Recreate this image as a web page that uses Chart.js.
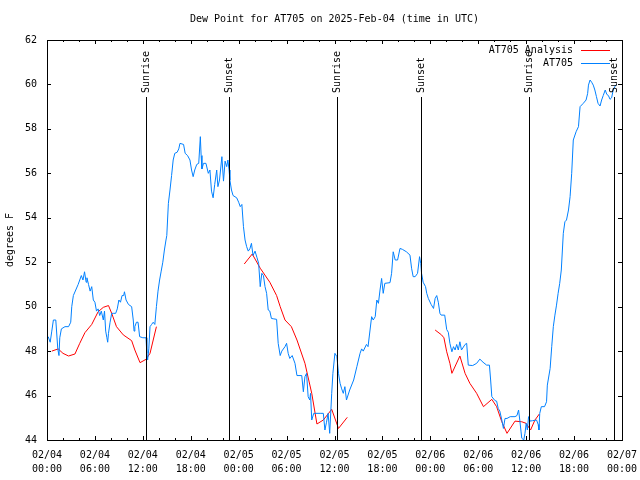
<!DOCTYPE html>
<html>
<head>
<meta charset="utf-8">
<title>Dew Point for AT705</title>
<script src="https://cdn.jsdelivr.net/npm/chart.js@4.4.0/dist/chart.umd.min.js"></script>
<style>
html, body { margin: 0; padding: 0; background: #fff; }
</style>
</head>
<body>
<canvas id="graph0" width="640" height="480"></canvas>
<script>
// hours since 2025-02-04 00:00 UTC
const stationHours = [
  0.15,0.4,0.6,0.8,1.1,1.35,1.5,1.6,1.8,2.25,2.7,2.97,3.1,3.3,3.6,3.9,4.1,4.3,4.5,4.7,4.9,5.0,5.2,5.4,5.6,5.8,
  6.0,6.2,6.4,6.6,6.8,7.05,7.2,7.35,7.5,7.6,7.7,7.9,8.1,8.3,8.6,8.8,9.0,9.2,9.4,9.6,9.7,9.9,10.2,10.6,10.8,10.9,
  11.0,11.2,11.4,11.6,12.0,12.4,12.5,12.6,12.75,12.9,13.1,13.3,13.5,13.7,13.9,14.1,14.3,14.5,14.7,14.9,15.0,15.2,
  15.4,15.6,15.8,16.0,16.3,16.5,16.65,17.1,17.3,17.6,17.9,18.1,18.3,18.5,18.75,19.0,19.2,19.3,19.4,19.6,19.9,20.2,
  20.4,20.6,20.8,21.0,21.25,21.4,21.6,21.9,22.1,22.3,22.5,22.65,22.8,22.9,23.1,23.3,23.75,24.0,24.2,24.4,24.6,24.8,
  25.0,25.2,25.4,25.6,25.8,26.05,26.3,26.5,26.7,26.9,27.1,27.3,27.5,27.7,27.9,28.1,28.4,28.75,28.95,29.2,29.4,29.8,
  30.0,30.2,30.4,30.7,31.05,31.3,31.9,32.1,32.3,32.5,32.7,32.9,33.0,33.15,33.4,34.2,34.6,34.8,35.0,35.2,35.4,35.65,
  35.8,36.05,36.3,36.5,36.7,36.9,37.1,37.3,37.5,37.9,38.4,38.8,39.2,39.4,39.6,40.0,40.2,40.45,40.65,40.85,41.1,41.3,
  41.5,41.7,41.9,42.1,42.3,42.95,43.15,43.35,43.6,43.9,44.2,44.5,45.0,45.45,45.65,45.85,46.1,46.4,46.65,46.8,46.9,
  47.1,47.4,47.55,47.75,48.1,48.4,48.6,48.8,49.0,49.2,49.35,49.8,50.05,50.25,50.45,50.7,50.9,51.1,51.3,51.5,51.7,
  51.9,52.35,52.55,52.75,53.3,53.8,54.2,54.6,55.05,55.4,55.55,55.7,56.1,56.3,56.5,56.7,56.95,57.15,57.35,57.6,58.0,
  58.6,58.85,59.05,59.2,59.35,59.45,59.7,59.85,60.0,60.15,60.3,60.5,60.8,61.3,61.5,61.6,61.7,61.9,62.3,62.55,62.65,
  63.0,63.2,63.4,63.6,63.8,64.0,64.2,64.4,64.65,64.85,65.05,65.3,65.5,65.7,65.9,66.25,66.55,66.75,67.15,67.5,67.7,
  67.8,68.0,68.2,68.4,68.6,68.8,69.0,69.25,69.45,69.65,69.9,70.1,70.3,70.5,70.7,70.9,71.1,71.3
];
const stationDewPoint = [
  48.65,48.4,48.9,49.4,49.4,48.1,47.8,48.6,49.0,49.1,49.1,49.3,50.0,50.5,50.75,51.0,51.2,51.4,51.2,51.57,51.1,51.3,51.0,50.7,50.9,50.3,
  50.2,49.8,49.9,49.6,49.8,49.4,49.8,48.9,48.6,48.4,48.8,49.3,49.7,49.7,49.7,49.9,50.3,50.2,50.5,50.5,50.67,50.3,50.1,50.0,49.4,48.9,
  49.1,49.3,49.3,48.65,48.6,48.6,47.9,47.6,48.1,49.1,49.2,49.3,49.2,50.0,50.7,51.2,51.6,52.0,52.55,53.0,53.2,54.65,
  55.25,55.9,56.6,56.9,56.95,57.1,57.35,57.3,56.9,56.8,56.6,56.15,55.85,56.15,56.4,56.45,57.65,56.8,56.2,56.45,56.45,56.0,
  56.15,55.2,54.9,55.5,56.15,55.4,55.7,56.75,55.65,56.55,56.3,56.6,56.15,55.7,55.25,55.0,54.9,54.7,54.5,54.6,53.6,53.0,
  52.7,52.5,52.6,52.85,52.3,52.5,52.2,51.95,50.9,51.5,51.4,50.9,50.6,49.85,49.8,49.47,49.45,49.43,48.35,47.8,48.0,48.2,
  48.35,47.9,47.67,47.8,47.45,46.9,46.9,46.17,46.85,47.0,45.95,45.8,46.1,44.9,45.2,45.2,45.2,44.45,44.8,45.2,44.3,46.1,
  47.0,47.9,47.75,47.0,46.55,46.3,46.1,46.4,45.8,46.25,46.7,47.3,47.9,48.1,48.0,48.3,48.2,48.95,49.55,49.4,49.55,50.3,
  50.15,50.75,51.27,50.6,51.05,51.08,51.5,52.47,52.1,52.1,52.62,52.58,52.47,52.32,51.73,51.35,51.35,51.5,52.25,51.95,51.5,
  51.1,50.9,50.6,50.37,50.1,49.92,50.37,50.5,50.2,49.7,49.62,49.62,48.97,48.85,48.35,47.97,48.2,48.05,48.3,48.05,48.42,
  48.05,48.3,48.35,47.37,47.35,47.45,47.64,47.5,47.37,47.37,46.7,45.95,45.77,45.75,45.42,45.3,44.9,44.52,44.97,44.97,45.05,
  45.05,45.1,45.35,44.9,44.4,44.08,44.0,44.3,44.75,44.45,45.05,44.85,44.87,44.9,44.7,44.45,45.2,45.5,45.5,45.72,46.47,
  47.22,48.2,49.1,49.62,50.07,50.6,51.05,51.65,53.3,53.82,53.9,54.35,54.95,56.0,57.5,57.87,58.1,59.0,59.15,59.3,59.6,
  59.97,60.2,60.1,59.97,59.75,59.45,59.15,59.03,59.3,59.5,59.75,59.55,59.5,59.33,59.4,59.75,59.9,60.0
];

// model analysis, null = no analysis (gap)
const analysisHours = [
  0.6,1.4,2.0,2.7,3.5,4.1,4.75,5.6,6.4,7.05,7.7,8.1,8.7,9.55,10.6,11.0,11.65,12.4,12.9,13.3,13.7,18,
  24.7,25.7,26.7,27.9,28.75,29.2,29.8,30.6,31.3,32.3,33.15,33.8,34.6,35.65,36.5,37.6,42,
  48.6,49.4,49.7,50.05,50.45,50.7,51.7,52.35,52.95,53.8,54.65,55.7,56.3,56.95,57.6,58.6,59.45,60.0,60.55,61.1,61.65
];
const analysisDewPoint = [
  48.0,48.1,47.9,47.78,47.87,48.35,48.83,49.2,49.77,49.97,50.05,49.7,49.1,48.73,48.47,48.05,47.48,47.63,47.9,48.5,49.1,null,
  51.92,52.37,51.73,51.1,50.5,50.0,49.4,49.1,48.5,47.45,46.1,44.72,44.9,45.38,44.52,45.02,null,
  48.95,48.73,48.6,47.97,47.45,47.0,47.78,47.0,46.55,46.1,45.5,45.83,45.5,44.82,44.3,44.85,44.82,44.75,44.45,44.9,45.17
];

const eventHours = [12.4, 22.85, 36.3, 46.83, 60.36, 71.0];
const eventNames = ["Sunrise", "Sunset", "Sunrise", "Sunset", "Sunrise", "Sunset"];

const xTickLabels = [
  ["02/04","00:00"],["02/04","06:00"],["02/04","12:00"],["02/04","18:00"],
  ["02/05","00:00"],["02/05","06:00"],["02/05","12:00"],["02/05","18:00"],
  ["02/06","00:00"],["02/06","06:00"],["02/06","12:00"],["02/06","18:00"],
  ["02/07","00:00"]
];
const yMin = 44, yMax = 62, yStep = 2;

const chartTitle = "Dew Point for AT705 on 2025-Feb-04 (time in UTC)";
const seriesNames = ["AT705 Analysis", "AT705"];
const seriesColors = ["#ff0000", "#0080ff"];

const FONT_FAMILY = "'DejaVu Sans Mono', 'Liberation Mono', monospace";
const FONT = "10px " + FONT_FAMILY;

function toPoints(xs, ys){
    return xs.map((x, i) => ({x: x, y: ys[i]}));
}

// gnuplot style frame: title over the plot, inward ticks on all sides,
// sunrise/sunset lines and the key
const gnuplotFrame = {
    id: "gnuplotFrame",
    afterDatasetsDraw(chart){
        const ctx = chart.ctx;
        const a = chart.chartArea;
        const xs = chart.scales.x;
        const ys = chart.scales.y;
        ctx.save();
        ctx.strokeStyle = "#000";
        ctx.fillStyle = "#000";
        ctx.lineWidth = 1;
        ctx.font = FONT;

        // title, centred on the plot area
        ctx.textAlign = "center";
        ctx.textBaseline = "middle";
        ctx.fillText(chartTitle, (a.left + a.right) / 2, a.top - 21);

        // sunrise / sunset
        for (let i = 0; i < eventHours.length; i++) {
            const x = Math.round(xs.getPixelForValue(eventHours[i])) + 0.5;
            ctx.beginPath();
            ctx.moveTo(x, a.top + 57);
            ctx.lineTo(x, a.bottom);
            ctx.stroke();
            ctx.save();
            ctx.translate(x, a.top + 53);
            ctx.rotate(-Math.PI / 2);
            ctx.textAlign = "left";
            ctx.textBaseline = "middle";
            ctx.fillText(eventNames[i], 0, 0);
            ctx.restore();
        }

        // frame
        ctx.strokeRect(Math.round(a.left) + 0.5, Math.round(a.top) + 0.5,
                       Math.round(a.right - a.left), Math.round(a.bottom - a.top));

        // x ticks, minor every 2 hours
        ctx.beginPath();
        for (let h = 0; h <= 72; h += 2) {
            const x = Math.round(xs.getPixelForValue(h)) + 0.5;
            const len = (h % 6 === 0) ? 4 : 2;
            ctx.moveTo(x, a.bottom); ctx.lineTo(x, a.bottom - len);
            ctx.moveTo(x, a.top); ctx.lineTo(x, a.top + len);
        }
        // y ticks
        for (let v = yMin; v <= yMax; v += yStep) {
            const y = Math.round(ys.getPixelForValue(v)) + 0.5;
            ctx.moveTo(a.left, y); ctx.lineTo(a.left + 4, y);
            ctx.moveTo(a.right, y); ctx.lineTo(a.right - 4, y);
        }
        ctx.stroke();

        // key
        ctx.textAlign = "right";
        ctx.textBaseline = "middle";
        for (let i = 0; i < seriesNames.length; i++) {
            const y = a.top + 10 + 13 * i;
            ctx.fillStyle = "#000";
            ctx.fillText(seriesNames[i], a.right - 49, y);
            ctx.strokeStyle = seriesColors[i];
            ctx.beginPath();
            ctx.moveTo(a.right - 41, Math.round(y) + 0.5);
            ctx.lineTo(a.right - 12, Math.round(y) + 0.5);
            ctx.stroke();
        }
        ctx.restore();
    }
};

Chart.defaults.color = "#000";
Chart.defaults.font.family = FONT_FAMILY;
Chart.defaults.font.size = 10;

new Chart("graph0", {
    type: "line",
    data: {
        datasets: [{
            label: seriesNames[0],
            data: toPoints(analysisHours, analysisDewPoint),
            borderColor: seriesColors[0],
            borderWidth: 1,
            pointRadius: 0,
            spanGaps: false,
            order: 1
        }, {
            label: seriesNames[1],
            data: toPoints(stationHours, stationDewPoint),
            borderColor: seriesColors[1],
            borderWidth: 1,
            pointRadius: 0,
            order: 0
        }]
    },
    options: {
        responsive: false,
        animation: false,
        layout: {padding: {left: 0, right: 18, top: 40, bottom: 0}},
        plugins: {
            legend: {display: false},
            tooltip: {enabled: false},
            title: {display: false}
        },
        scales: {
            x: {
                type: "linear",
                min: 0,
                max: 72,
                grid: {display: false, drawTicks: false},
                border: {display: false},
                ticks: {
                    stepSize: 6,
                    autoSkip: false,
                    maxRotation: 0,
                    padding: 8,
                    font: {size: 10, lineHeight: 1.4},
                    callback: (v) => xTickLabels[Math.round(v / 6)]
                },
                afterFit: (scale) => {
                    scale.height = 40;
                    scale.paddingLeft = 0;
                    scale.paddingRight = 0;
                }
            },
            y: {
                min: yMin,
                max: yMax,
                grid: {display: false, drawTicks: false},
                border: {display: false},
                ticks: {stepSize: yStep, padding: 10, font: {size: 10}},
                title: {display: true, text: "degrees F", font: {size: 10}, padding: {top: 4, bottom: 0}},
                afterFit: (scale) => {
                    scale.width = 47;
                    scale.paddingTop = 0;
                    scale.paddingBottom = 0;
                }
            }
        }
    },
    plugins: [gnuplotFrame]
});
</script>
</body>
</html>
